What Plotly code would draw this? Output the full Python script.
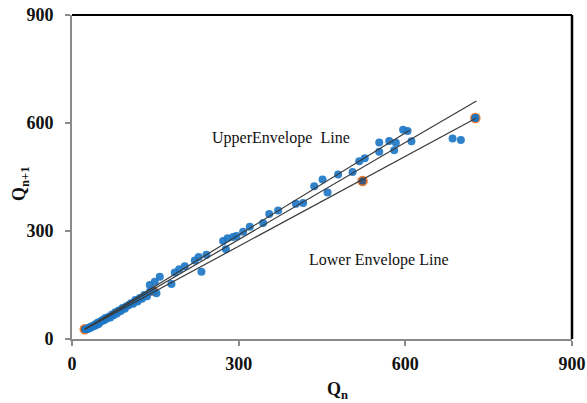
import plotly.graph_objects as go

# Observed discharges: Q_n versus Q_{n+1}
q_n = [25, 27, 30, 32, 34, 36, 38, 40, 42, 44, 46, 48, 50, 53, 55, 58, 60, 63, 66, 69,
       72, 75, 78, 81, 84, 88, 91, 95, 98, 102, 106, 110, 114, 118, 122, 126, 130, 135,
       140, 140, 149, 152, 158, 179, 185, 193, 203, 221, 228, 233, 242, 272, 277, 280,
       290, 296, 308, 320, 344, 355, 371, 403, 416, 436, 451, 460, 479, 505, 517, 527,
       553, 553, 571, 580, 583, 596, 604, 611, 685, 700, 726]
q_n1 = [27, 27, 31, 30, 34, 33, 37, 36, 41, 39, 45, 42, 48, 49, 53, 52, 58, 57, 62, 60,
        68, 66, 74, 71, 79, 78, 86, 84, 91, 94, 99, 98, 108, 104, 114, 112, 122, 119,
        131, 150, 159, 127, 173, 153, 185, 194, 202, 218, 228, 187, 234, 272, 249, 280,
        283, 286, 298, 312, 322, 347, 357, 376, 378, 424, 443, 407, 457, 464, 494, 502,
        546, 520, 550, 524, 545, 581, 578, 549, 557, 553, 614]

# Points defining the lower envelope
env_x = [23, 146, 523, 726]
env_y = [27, 134, 439, 614]

# Line end points
upper_x = [23, 608]
upper_y = [27, 580]
mid_x = [23, 728]
mid_y = [27, 661]
lower_x = [23, 727]
lower_y = [27, 613]

tick_vals = [0, 300, 600, 900]
tick_text = ["0", "300", "600", "900"]

SERIF = "Liberation Serif"
LINE_COLOR = "#3a3a3a"

fig = go.Figure()

fig.add_trace(go.Scatter(
    x=env_x, y=env_y, mode="markers",
    marker=dict(size=9, color="#3d5a80", line=dict(color="#ED7D31", width=1.6)),
    hoverinfo="skip", showlegend=False,
))
fig.add_trace(go.Scatter(
    x=q_n, y=q_n1, mode="markers",
    marker=dict(size=8, color="#1E77C5", opacity=0.92),
    showlegend=False,
))
for lx, ly in [(upper_x, upper_y), (mid_x, mid_y), (lower_x, lower_y)]:
    fig.add_trace(go.Scatter(
        x=lx, y=ly, mode="lines",
        line=dict(color=LINE_COLOR, width=1.2),
        hoverinfo="skip", showlegend=False,
    ))

axis_common = dict(
    range=[0, 900], tickvals=tick_vals, ticktext=tick_text,
    showgrid=False, zeroline=False, automargin=False,
    showline=True, linecolor="#8a8a8a", linewidth=2,
    ticks="outside", ticklen=5, tickcolor="#8a8a8a", tickwidth=1.5,
    tickfont=dict(family=SERIF, size=18, color="#111111", weight="bold"),
)

fig.update_layout(
    width=587, height=403,
    margin=dict(l=72, r=15, t=15, b=64, autoexpand=False),
    paper_bgcolor="white", plot_bgcolor="white",
    xaxis=dict(**axis_common, ticklabelstandoff=2),
    yaxis=dict(**axis_common, ticklabelstandoff=8),
    shapes=[
        dict(type="line", xref="paper", yref="paper", x0=0, x1=1, y0=1, y1=1,
             line=dict(color="black", width=2)),
        dict(type="line", xref="paper", yref="paper", x0=1, x1=1, y0=0, y1=1,
             line=dict(color="black", width=2.5)),
    ],
    annotations=[
        dict(x=376, y=558, xref="x", yref="y", text="UpperEnvelope  Line",
             showarrow=False, font=dict(family=SERIF, size=16, color="#111111")),
        dict(x=553, y=219, xref="x", yref="y", text="Lower Envelope Line",
             showarrow=False, font=dict(family=SERIF, size=16, color="#111111")),
        dict(x=0.53, y=-0.20, xref="paper", yref="paper",
             text="Q<sub>n</sub>", showarrow=False,
             font=dict(family=SERIF, size=18, color="#111111", weight="bold")),
        dict(x=-0.13, y=0.48, xref="paper", yref="paper", textangle=-90,
             text="Q<sub>n+1</sub>", showarrow=False,
             font=dict(family=SERIF, size=18, color="#111111", weight="bold")),
    ],
)

fig.write_html("out.html")
